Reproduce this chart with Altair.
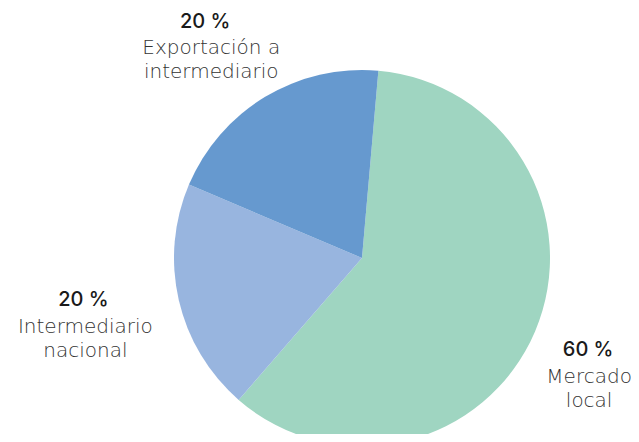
import math
import altair as alt
import pandas as pd

# ---- data ----
categories = ["Mercado local", "Intermediario nacional", "Exportación a intermediario"]
name_lines = ["Mercado\nlocal", "Intermediario\nnacional", "Exportación a\nintermediario"]
values = [60, 20, 20]
pct_labels = ["60 %", "20 %", "20 %"]

# ---- style ----
colors = ["#9FD5C1", "#98B5DF", "#6699CF"]
label_offsets = {  # (dx_pct, dy_pct, dx_name, dy_name) pixel nudges for each label block
    "Mercado local": (-4, 0, -3, 27),
    "Intermediario nacional": (-35, -8, -33, 19),
    "Exportación a intermediario": (-28, -16, -22, 10),
}
FONT_PCT = "Inter"
FONT_NAME = "DejaVu Sans"
start = math.radians(5)

df = pd.DataFrame({
    "cat": categories,
    "name": name_lines,
    "value": values,
    "pct": pct_labels,
    "idx": list(range(len(categories))),
})

theta_scale = alt.Scale(domain=[0, 100], range=[start, start + 2 * math.pi])
color_scale = alt.Scale(domain=categories, range=colors)

base = alt.Chart(df)

arcs = base.mark_arc(outerRadius=188, stroke=None).encode(
    theta=alt.Theta("value:Q", stack=True, scale=theta_scale),
    color=alt.Color("cat:N", scale=color_scale, legend=None),
    order=alt.Order("idx:Q"),
)

lab_base = base.transform_window(
    cum="sum(value)", sort=[{"field": "idx"}]
).transform_calculate(mid="datum.cum - datum.value / 2")

layers = [arcs]
for c in categories:
    dxp, dyp, dxn, dyn = label_offsets[c]
    sub = lab_base.transform_filter(alt.datum.cat == c)
    layers.append(
        sub.mark_text(
            font=FONT_PCT, fontSize=20, fontWeight=500, color="#1a1a1a",
            align="center", baseline="alphabetic", dx=dxp, dy=dyp,
        ).encode(
            theta=alt.Theta("mid:Q", stack=None, scale=theta_scale),
            radius=alt.value(250),
            text="pct:N",
        )
    )
    layers.append(
        sub.mark_text(
            font=FONT_NAME, fontSize=20, fontWeight=200, color="#333333",
            align="center", baseline="alphabetic", dx=dxn, dy=dyn,
            lineBreak="\n", lineHeight=24,
        ).encode(
            theta=alt.Theta("mid:Q", stack=None, scale=theta_scale),
            radius=alt.value(250),
            text="name:N",
        )
    )

chart = alt.layer(*layers).properties(
    width=508,
    height=352,
    padding={"left": 100, "right": 15, "top": 74, "bottom": 0},
    autosize=alt.AutoSizeParams(type="none"),
).configure_view(stroke=None)

chart.save("out.html", embed_options={"renderer": "svg", "actions": False})
